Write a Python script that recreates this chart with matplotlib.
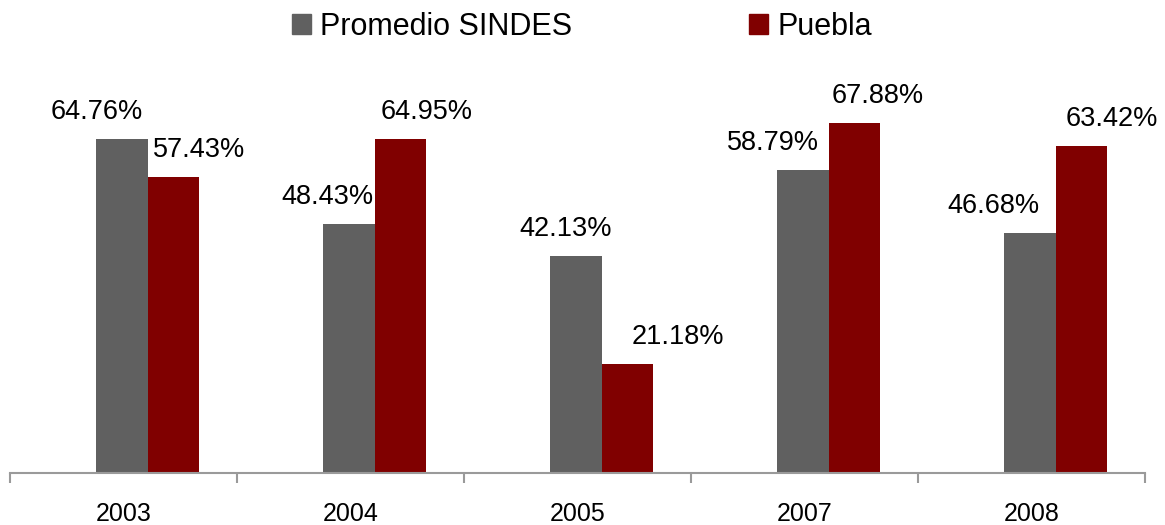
import numpy as np
import matplotlib.pyplot as plt
from matplotlib.patches import Patch

plt.rcParams['font.family'] = ['Liberation Sans', 'DejaVu Sans']

anios = ['2003', '2004', '2005', '2007', '2008']
promedio_sindes = [64.76, 48.43, 42.13, 58.79, 46.68]
puebla = [57.43, 64.95, 21.18, 67.88, 63.42]

gris = '#606060'
rojo = '#800000'

# desplazamiento horizontal de las etiquetas (px), como en el original
dx_gris = [-25, -22, -10, -30, -37]
dx_rojo = [26, 27, 51, 24, 31]

fig = plt.figure(figsize=(11.65, 5.25), dpi=100)
ax = fig.add_axes([10 / 1165, 52 / 525, 1135 / 1165, 412 / 525])

x = np.arange(len(anios))
w = 0.225
corr = 0.106  # las barras van algo corridas a la derecha en el original
b1 = ax.bar(x + corr - w / 2, promedio_sindes, w, color=gris)
b2 = ax.bar(x + corr + w / 2, puebla, w, color=rojo)

for barras, vals, dxs in [(b1, promedio_sindes, dx_gris), (b2, puebla, dx_rojo)]:
    for b, v, d in zip(barras, vals, dxs):
        ax.annotate(f'{v:.2f}%', (b.get_x() + b.get_width() / 2, v),
                    xytext=(d * 0.72, 14 * 0.72), textcoords='offset points',
                    ha='center', va='bottom', fontsize=19.5)

ax.set_xlim(-0.5, len(anios) - 0.5)
ax.set_ylim(0, 80)
ax.set_yticks([])
for s in ['top', 'right', 'left']:
    ax.spines[s].set_visible(False)
ax.spines['bottom'].set_color('#9a9a9a')
ax.spines['bottom'].set_linewidth(1.5)

ax.set_xticks(x)
ax.set_xticklabels(anios, fontsize=18)
ax.tick_params(axis='x', which='major', length=0, pad=21)
ax.set_xticks(np.arange(-0.5, len(anios)), minor=True)
ax.tick_params(axis='x', which='minor', length=7.5, width=1.5, color='#9a9a9a', direction='out')

handles = [Patch(color=gris, label='Promedio SINDES'), Patch(color=rojo, label='Puebla')]
fig.legend(handles=handles, loc='center', bbox_to_anchor=(582 / 1165, 1 - 27 / 525), ncol=2,
           frameon=False, fontsize=22, handlelength=0.62, handleheight=0.62,
           handletextpad=0.3, columnspacing=5.8)

fig.savefig('out.png', dpi=100)
